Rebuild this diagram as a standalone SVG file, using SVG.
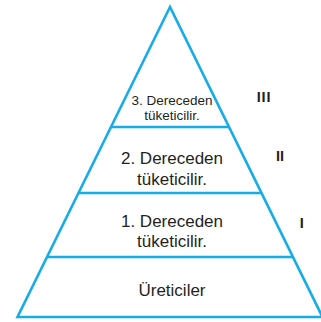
<svg xmlns="http://www.w3.org/2000/svg" width="321" height="322" viewBox="0 0 321 322">
<style>
.edge{stroke:#16ACE8;stroke-width:2.6;fill:none;stroke-linejoin:miter}
.t{font-family:"Liberation Sans",Arial,sans-serif;fill:#231F20;text-anchor:middle}
.s{font-size:13.5px}
.l{font-size:17px}
.r{font-family:"Liberation Sans",Arial,sans-serif;fill:#231F20;font-weight:bold;font-size:14.5px;text-anchor:middle}
</style>
<rect width="321" height="322" fill="#FFFFFF"/>
<g id="connectors">
<path class="edge" d="M170,7 L17.5,317 L322.5,317 Z"/>
<line class="edge" x1="111" y1="127" x2="229" y2="127"/>
<line class="edge" x1="79" y1="193" x2="261" y2="193"/>
<line class="edge" x1="47.5" y1="257" x2="292.5" y2="257"/>
</g>
<g id="level3">
<text class="t s" x="172" y="105">3. Dereceden</text>
<text class="t s" x="172" y="119.5">tüketicilir.</text>
</g>
<g id="level2">
<text class="t l" x="172" y="163.5">2. Dereceden</text>
<text class="t l" x="172" y="185">tüketicilir.</text>
</g>
<g id="level1">
<text class="t l" x="172" y="226.5">1. Dereceden</text>
<text class="t l" x="172" y="247">tüketicilir.</text>
</g>
<g id="producers">
<text class="t l" x="172" y="296">Üreticiler</text>
</g>
<g id="labels">
<text class="r" x="264" y="101.5" letter-spacing="0.8">III</text>
<text class="r" x="280" y="161">II</text>
<text class="r" x="301.7" y="227.7">I</text>
</g>
</svg>
